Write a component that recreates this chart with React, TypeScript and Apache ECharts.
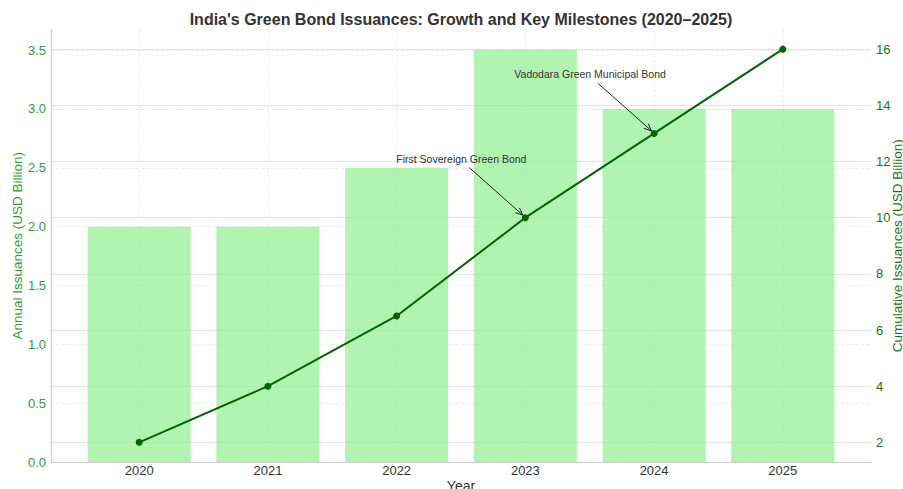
import React, { useEffect, useRef } from 'react';
import * as echarts from 'echarts';

const years = ['2020', '2021', '2022', '2023', '2024', '2025'];
const annualIssuance = [2.0, 2.0, 2.5, 3.5, 3.0, 3.0];
const cumulativeIssuance = [2, 4, 6.5, 10, 13, 16];
const leftTicks = [0, 0.5, 1.0, 1.5, 2.0, 2.5, 3.0, 3.5];
const rightTicks = [2, 4, 6, 8, 10, 12, 14, 16];
const milestoneIndex = [3, 4];
const milestoneLabels = ['First Sovereign Green Bond', 'Vadodara Green Municipal Bond'];

const FONT = '"Liberation Sans", Arial, sans-serif';
const LEFT_COLOR = '#2fa02f';
const RIGHT_COLOR = '#157515';

export default function App() {
  const ref = useRef<HTMLDivElement>(null);

  useEffect(() => {
    if (!ref.current) return;
    const chart = echarts.init(ref.current, undefined, { renderer: 'svg' });
    const xIdx = years.map((_, i) => i);

    chart.setOption({
      animation: false,
      backgroundColor: '#ffffff',
      title: {
        text: "India's Green Bond Issuances: Growth and Key Milestones (2020–2025)",
        left: 456,
        textAlign: 'center',
        top: 6,
        textStyle: { fontFamily: FONT, fontSize: 16, fontWeight: 'bold', color: '#333333' },
      },
      grid: { left: 51, right: 32, top: 29.5, bottom: 27, containLabel: false, outerBoundsMode: 'none' },
      xAxis: {
        type: 'value',
        min: -0.685,
        max: 5.685,
        name: 'Year',
        nameLocation: 'middle',
        nameGap: 17,
        nameMoveOverlap: false,
        nameTextStyle: { fontFamily: FONT, fontSize: 14, color: '#333333' },
        axisLine: { show: true, onZero: false, lineStyle: { color: '#cccccc', width: 1.2 } },
        axisTick: { show: false, customValues: xIdx },
        axisLabel: {
          customValues: xIdx,
          formatter: (v: number) => years[Math.round(v)] ?? '',
          fontFamily: FONT,
          fontSize: 13,
          color: '#333333',
          margin: 2,
        },
        splitLine: { show: true, lineStyle: { color: '#e6e6e6', type: [3, 2], width: 0.8 } },
      },
      yAxis: [
        {
          type: 'value',
          min: 0,
          max: 3.675,
          name: 'Annual Issuances (USD Billion)',
          nameLocation: 'middle',
          nameRotate: 90,
          nameGap: 27,
          nameMoveOverlap: false,
          nameTextStyle: { fontFamily: FONT, fontSize: 13.5, color: LEFT_COLOR },
          axisLine: { show: true, onZero: false, lineStyle: { color: '#cccccc', width: 1.2 } },
          axisTick: { show: false, customValues: leftTicks },
          axisLabel: {
            customValues: leftTicks,
            formatter: (v: number) => v.toFixed(1),
            fontFamily: FONT,
            fontSize: 13,
            color: LEFT_COLOR,
            margin: 5,
          },
          splitLine: { show: true, lineStyle: { color: '#e8e8e8', type: [3, 2], width: 0.8 } },
        },
        {
          type: 'value',
          min: 1.3,
          max: 16.7,
          position: 'right',
          name: 'Cumulative Issuances (USD Billion)',
          nameLocation: 'middle',
          nameRotate: 90,
          nameGap: 19,
          nameMoveOverlap: false,
          nameTextStyle: { fontFamily: FONT, fontSize: 13.5, color: RIGHT_COLOR },
          axisLine: { show: false, onZero: false },
          axisTick: { show: false, customValues: rightTicks },
          axisLabel: {
            customValues: rightTicks,
            formatter: (v: number) => String(v),
            fontFamily: FONT,
            fontSize: 13,
            color: RIGHT_COLOR,
            margin: 5,
          },
          splitLine: { show: true, lineStyle: { color: '#e3e3e3', type: 'solid', width: 1 } },
        },
      ],
      series: [
        {
          type: 'bar',
          xAxisIndex: 0,
          yAxisIndex: 0,
          barWidth: 103,
          data: annualIssuance.map((v, i) => [i, v]),
          itemStyle: { color: 'rgba(144,238,144,0.7)' },
          z: 1,
        },
        {
          type: 'line',
          xAxisIndex: 0,
          yAxisIndex: 1,
          data: cumulativeIssuance.map((v, i) => [i, v]),
          symbol: 'circle',
          symbolSize: 7,
          itemStyle: { color: '#006400' },
          lineStyle: { color: '#006400', width: 2 },
          z: 3,
        },
      ],
    });

    const graphics: any[] = [];
    milestoneIndex.forEach((idx, k) => {
      const p = chart.convertToPixel({ xAxisIndex: 0, yAxisIndex: 1 }, [idx, cumulativeIssuance[idx]]) as number[];
      const sx = p[0] - 56;
      const sy = p[1] - 50;
      const ex = p[0] - 2.5;
      const ey = p[1] - 2.5;
      const ang = Math.atan2(ey - sy, ex - sx);
      const hl = 8;
      const spread = 0.4;
      graphics.push({
        type: 'text',
        x: p[0] - 64,
        y: p[1] - 59,
        style: {
          text: milestoneLabels[k],
          fontFamily: FONT,
          fontSize: 10.5,
          fill: '#333333',
          textAlign: 'center',
          textVerticalAlign: 'middle',
        },
        z: 10,
      });
      graphics.push({
        type: 'line',
        shape: { x1: sx, y1: sy, x2: ex, y2: ey },
        style: { stroke: '#222222', lineWidth: 1 },
        z: 10,
      });
      graphics.push({
        type: 'polyline',
        shape: {
          points: [
            [ex - hl * Math.cos(ang - spread), ey - hl * Math.sin(ang - spread)],
            [ex, ey],
            [ex - hl * Math.cos(ang + spread), ey - hl * Math.sin(ang + spread)],
          ],
        },
        style: { stroke: '#222222', lineWidth: 1, fill: 'none' },
        z: 10,
      });
    });
    chart.setOption({ graphic: graphics });

    return () => chart.dispose();
  }, []);

  return (
    <div
      ref={ref}
      style={{ position: 'fixed', left: 0, top: 0, width: 903, height: 489, background: '#fff' }}
    />
  );
}
